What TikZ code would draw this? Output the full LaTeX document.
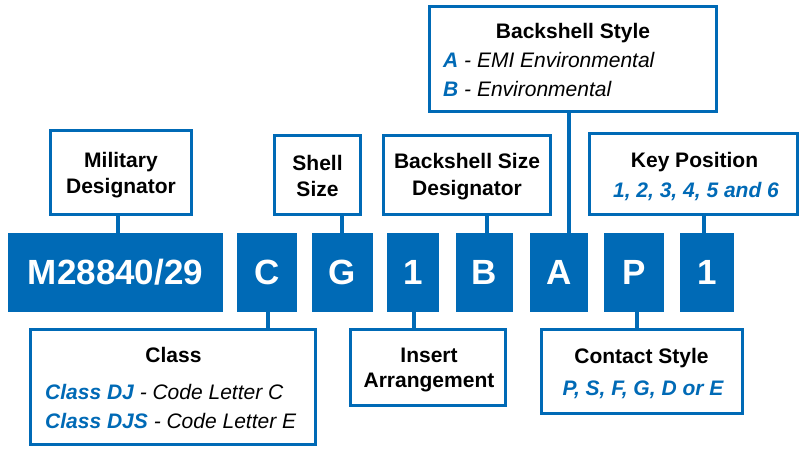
\documentclass[tikz,border=0pt]{standalone}
\usepackage{fontspec}
\setmainfont{Liberation Sans}
\definecolor{cblue}{RGB}{0,106,182}
\newcommand{\lblfont}{\fontsize{21}{25}\selectfont}
\newcommand{\bigfont}{\fontsize{35}{40}\selectfont\bfseries}
\newcommand{\bl}[1]{\textcolor{cblue}{\bfseries\itshape #1}}
\tikzset{
  lbox/.style={draw=cblue, line width=3pt, fill=white, inner sep=0pt},
  bbox/.style={fill=cblue, text=white, inner sep=0pt, minimum height=79pt, font=\bigfont},
  conn/.style={draw=cblue, line width=4.5pt},
  hd/.style={anchor=base, inner sep=0pt, font=\lblfont\bfseries},
  itl/.style={anchor=base west, inner sep=0pt, font=\lblfont\itshape},
  itc/.style={anchor=base, inner sep=0pt, font=\lblfont\itshape\bfseries, text=cblue}
}
\begin{document}
\begin{tikzpicture}[x=1pt,y=-1pt]
\useasboundingbox (0,0) rectangle (799,455);
% code boxes
\node[bbox, minimum width=215pt] (M) at (115.5,272.5) {M28840/29};
\node[bbox, minimum width=60pt] (C) at (267,272.5) {C};
\node[bbox, minimum width=61pt] (G) at (342.5,272.5) {G};
\node[bbox, minimum width=52pt] (N1) at (413,272.5) {1};
\node[bbox, minimum width=57pt] (B) at (484.5,272.5) {B};
\node[bbox, minimum width=58pt] (A) at (559,272.5) {A};
\node[bbox, minimum width=60pt] (P) at (634,272.5) {P};
\node[bbox, minimum width=54pt] (N2) at (707,272.5) {1};
% label boxes
\node[lbox, minimum width=141pt, minimum height=84pt] (mil) at (121,172.5) {};
\node[lbox, minimum width=86pt, minimum height=79pt] (shell) at (317.5,175) {};
\node[lbox, minimum width=167pt, minimum height=79pt] (bsd) at (467,175) {};
\node[lbox, minimum width=208pt, minimum height=81pt] (key) at (693.5,174) {};
\node[lbox, minimum width=287pt, minimum height=105pt] (bst) at (573,59) {};
\node[lbox, minimum width=285pt, minimum height=115pt] (cls) at (173,387) {};
\node[lbox, minimum width=155pt, minimum height=76pt] (ins) at (428,367.5) {};
\node[lbox, minimum width=201pt, minimum height=84pt] (con) at (642,371.5) {};
% connectors
\draw[conn] (118,0 |- mil.south) -- (118,0 |- M.north);
\draw[conn] (342,0 |- shell.south) -- (342,0 |- G.north);
\draw[conn] (487,0 |- bsd.south) -- (487,0 |- B.north);
\draw[conn] (569,0 |- bst.south) -- (569,0 |- A.north);
\draw[conn] (704,0 |- key.south) -- (704,0 |- N2.north);
\draw[conn] (268,0 |- C.south) -- (268,0 |- cls.north);
\draw[conn] (414,0 |- N1.south) -- (414,0 |- ins.north);
\draw[conn] (637,0 |- P.south) -- (637,0 |- con.north);
% texts
\node[hd] (mil1) at (121,167) {Military};
\node[hd] (mil2) at (121,193) {Designator};
\node[hd] (sh1) at (317.5,170) {Shell};
\node[hd] (sh2) at (317.5,196) {Size};
\node[hd] (bsd1) at (467,168) {Backshell Size};
\node[hd] (bsd2) at (467,195) {Designator};
\node[hd] (bst1) at (573,38) {Backshell Style};
\node[itl] (bst2) at (443,67) {\bl{A} - EMI Environmental};
\node[itl] (bst3) at (443,96) {\bl{B} - Environmental};
\node[hd] (key1) at (694.5,167) {Key Position};
\node[itc] (key2) at (696,197) {1, 2, 3, 4, 5 and 6};
\node[hd] (cls1) at (173.5,362) {Class};
\node[itl] (cls2) at (45,399) {\bl{Class DJ} - Code Letter C};
\node[itl] (cls3) at (45,428) {\bl{Class DJS} - Code Letter E};
\node[hd] (ins1) at (429,362) {Insert};
\node[hd] (ins2) at (429,387) {Arrangement};
\node[hd] (con1) at (641.5,363) {Contact Style};
\node[itc] (con2) at (643,395) {P, S, F, G, D or E};
\end{tikzpicture}
\end{document}
